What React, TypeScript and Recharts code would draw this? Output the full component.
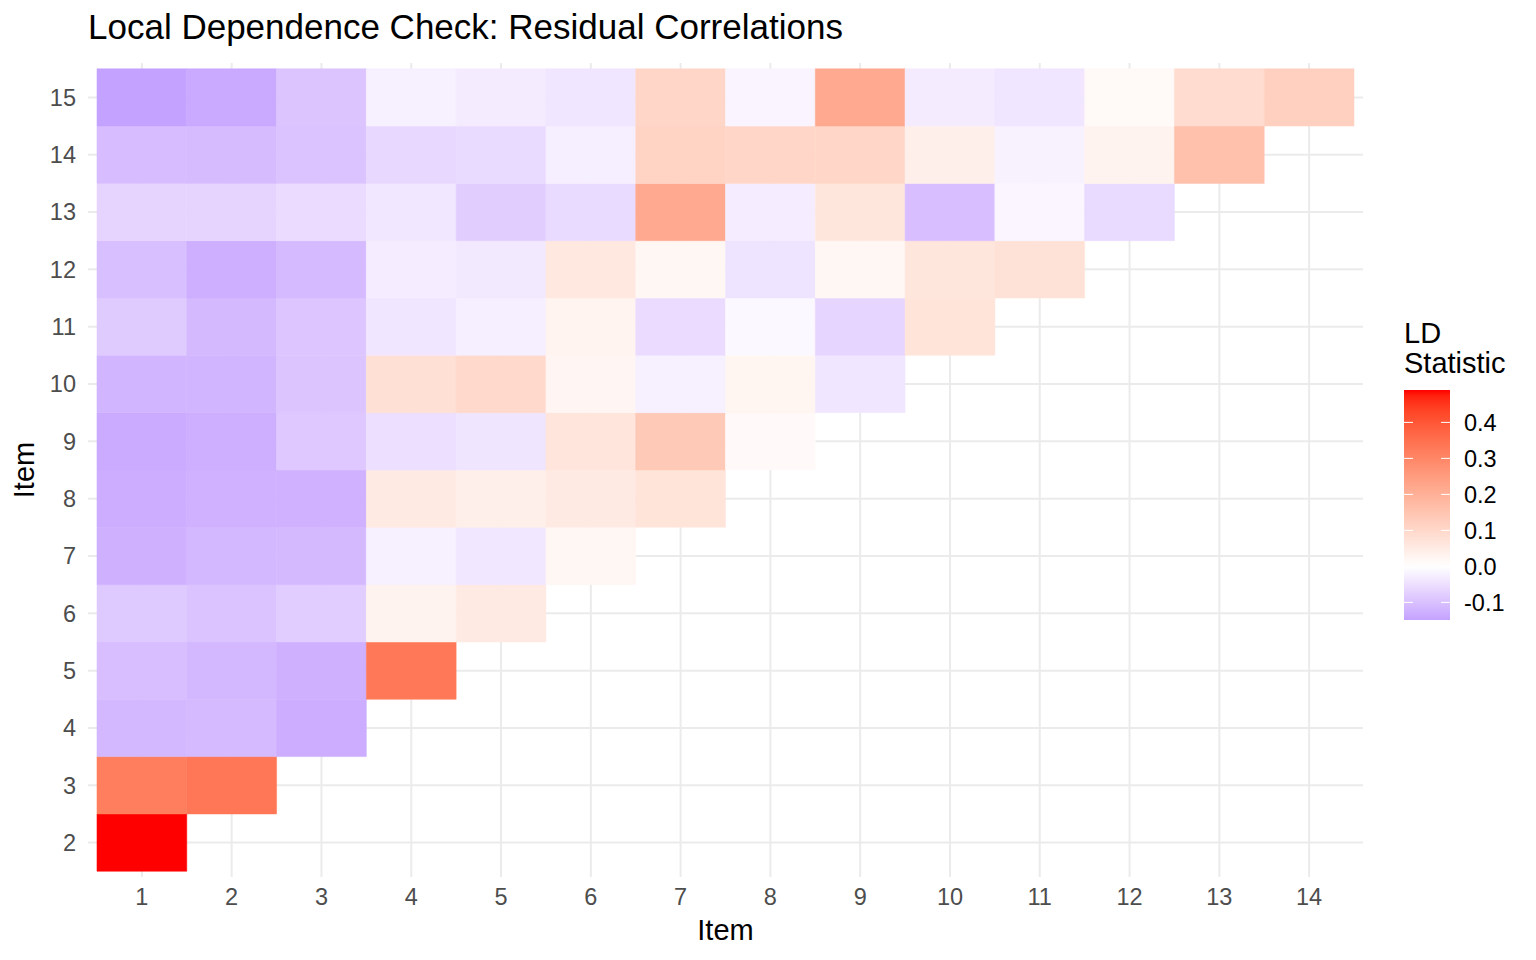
import React from 'react'
import {
  ScatterChart,
  Scatter,
  XAxis,
  YAxis,
  CartesianGrid,
  ReferenceArea,
  Label,
} from 'recharts'

// Item numbers on each axis
const xItems = [1, 2, 3, 4, 5, 6, 7, 8, 9, 10, 11, 12, 13, 14]
const yItems = [2, 3, 4, 5, 6, 7, 8, 9, 10, 11, 12, 13, 14, 15]
const xDomain: [number, number] = [0.4, 14.6]
const yDomain: [number, number] = [1.4, 15.6]

// Residual correlation (LD statistic) for item y against items 1..y-1
const ldRows: number[][] = [
  [0.49],
  [0.32, 0.335],
  [-0.115, -0.11, -0.131],
  [-0.103, -0.113, -0.126, 0.33],
  [-0.085, -0.095, -0.08, 0.03, 0.053],
  [-0.126, -0.115, -0.111, -0.023, -0.038, 0.02],
  [-0.131, -0.124, -0.124, 0.053, 0.04, 0.053, 0.07],
  [-0.134, -0.129, -0.087, -0.051, -0.041, 0.068, 0.137, 0.012],
  [-0.118, -0.118, -0.092, 0.08, 0.098, 0.025, -0.023, 0.027, -0.039],
  [-0.082, -0.111, -0.09, -0.039, -0.025, 0.028, -0.056, -0.011, -0.067, 0.07],
  [-0.102, -0.129, -0.11, -0.029, -0.034, 0.058, 0.02, -0.043, 0.02, 0.065, 0.075],
  [-0.069, -0.069, -0.057, -0.038, -0.079, -0.059, 0.215, -0.028, 0.065, -0.103, -0.015, -0.059],
  [-0.106, -0.108, -0.095, -0.062, -0.059, -0.025, 0.11, 0.105, 0.105, 0.04, -0.021, 0.03, 0.16],
  [-0.149, -0.136, -0.093, -0.023, -0.031, -0.039, 0.105, -0.018, 0.215, -0.031, -0.039, 0.015, 0.09, 0.12],
]

const legendTicks = [0.4, 0.3, 0.2, 0.1, 0.0, -0.1]

const FONT = '"Liberation Sans", Arial, Helvetica, sans-serif'

const cells = ldRows.flatMap((row, i) =>
  row.map((value, j) => ({ x: xItems[j], y: yItems[i], value }))
)
const allValues = cells.map((c) => c.value)
const vMin = Math.min(...allValues)
const vMax = Math.max(...allValues)

// --- colour scale: white in the middle, interpolated in Lab ---
type Lab = [number, number, number]

function srgbToLab(hex: string): Lab {
  const c = [1, 3, 5].map((i) => parseInt(hex.slice(i, i + 2), 16) / 255)
  const lin = c.map((v) => (v <= 0.04045 ? v / 12.92 : Math.pow((v + 0.055) / 1.055, 2.4)))
  const X = (0.4124 * lin[0] + 0.3576 * lin[1] + 0.1805 * lin[2]) / 0.95047
  const Y = 0.2126 * lin[0] + 0.7152 * lin[1] + 0.0722 * lin[2]
  const Z = (0.0193 * lin[0] + 0.1192 * lin[1] + 0.9505 * lin[2]) / 1.08883
  const f = (t: number) => (t > 0.008856 ? Math.cbrt(t) : 7.787 * t + 16 / 116)
  return [116 * f(Y) - 16, 500 * (f(X) - f(Y)), 200 * (f(Y) - f(Z))]
}

function labToHex([L, a, b]: Lab): string {
  const fy = (L + 16) / 116
  const fx = fy + a / 500
  const fz = fy - b / 200
  const inv = (t: number) => (t * t * t > 0.008856 ? t * t * t : (t - 16 / 116) / 7.787)
  const X = inv(fx) * 0.95047
  const Y = inv(fy)
  const Z = inv(fz) * 1.08883
  const lin = [
    3.2406 * X - 1.5372 * Y - 0.4986 * Z,
    -0.9689 * X + 1.8758 * Y + 0.0415 * Z,
    0.0557 * X - 0.204 * Y + 1.057 * Z,
  ]
  return (
    '#' +
    lin
      .map((v) => {
        const s = v <= 0.0031308 ? 12.92 * v : 1.055 * Math.pow(v, 1 / 2.4) - 0.055
        const n = Math.round(Math.min(1, Math.max(0, s)) * 255)
        return n.toString(16).padStart(2, '0')
      })
      .join('')
  )
}

const labWhite = srgbToLab('#ffffff')
const labRed = srgbToLab('#ff0000')
const labBlue = srgbToLab('#0000ff')

function mix(a: Lab, b: Lab, t: number): Lab {
  return [a[0] + (b[0] - a[0]) * t, a[1] + (b[1] - a[1]) * t, a[2] + (b[2] - a[2]) * t]
}

function ldColor(v: number): string {
  if (v >= 0) return labToHex(mix(labWhite, labRed, Math.min(1, v / vMax)))
  return labToHex(mix(labWhite, labBlue, Math.min(1, (v / vMin) * 0.4)))
}

// --- colour bar legend ---
const BAR_X = 1404
const BAR_W = 46
const BAR_TOP = 390
const BAR_H = 230

function barY(v: number) {
  return BAR_TOP + ((vMax - v) / (vMax - vMin)) * BAR_H
}

function ColorBar() {
  const stops = Array.from({ length: 41 }, (_, i) => i / 40)
  return (
    <svg
      width={1536}
      height={960}
      style={{ position: 'absolute', left: 0, top: 0, pointerEvents: 'none' }}
    >
      <defs>
        <linearGradient id="ldGrad" x1="0" y1="0" x2="0" y2="1">
          {stops.map((s) => (
            <stop key={s} offset={s} stopColor={ldColor(vMax - s * (vMax - vMin))} />
          ))}
        </linearGradient>
      </defs>
      <text x={88} y={39} fontSize={35} fontFamily={FONT} fill="#000">
        Local Dependence Check: Residual Correlations
      </text>
      <text x={BAR_X} y={343} fontSize={29} fontFamily={FONT} fill="#000">
        LD
      </text>
      <text x={BAR_X} y={373} fontSize={29} fontFamily={FONT} fill="#000">
        Statistic
      </text>
      <rect x={BAR_X} y={BAR_TOP} width={BAR_W} height={BAR_H} fill="url(#ldGrad)" />
      {legendTicks.map((t) => (
        <g key={t}>
          <line x1={BAR_X} x2={BAR_X + 9} y1={barY(t)} y2={barY(t)} stroke="#fff" strokeWidth={1} />
          <line
            x1={BAR_X + BAR_W - 9}
            x2={BAR_X + BAR_W}
            y1={barY(t)}
            y2={barY(t)}
            stroke="#fff"
            strokeWidth={1}
          />
          <text
            x={1464}
            y={barY(t)}
            dy="0.36em"
            fontSize={23.5}
            fontFamily={FONT}
            fill="#000"
          >
            {t.toFixed(1)}
          </text>
        </g>
      ))}
    </svg>
  )
}

// grid lines only at the item positions (no frame at the panel edges)
function gridY({ offset }: any) {
  return yItems.map(
    (v) => offset.top + ((yDomain[1] - v) / (yDomain[1] - yDomain[0])) * offset.height
  )
}
function gridX({ offset }: any) {
  return xItems.map(
    (v) => offset.left + ((v - xDomain[0]) / (xDomain[1] - xDomain[0])) * offset.width
  )
}

export default function App() {
  const tickStyle = { fill: '#4D4D4D', fontSize: 23.5, fontFamily: FONT }
  return (
    <div style={{ position: 'absolute', left: 0, top: 0, width: 1536, height: 960, background: '#fff' }}>
      <ScatterChart
        width={1536}
        height={960}
        margin={{ top: 63, right: 173, bottom: 0, left: 0 }}
      >
        <CartesianGrid
          stroke="#EBEBEB"
          strokeWidth={2}
          horizontalCoordinatesGenerator={gridY}
          verticalCoordinatesGenerator={gridX}
        />
        <XAxis
          type="number"
          dataKey="x"
          domain={xDomain}
          ticks={xItems}
          interval={0}
          allowDataOverflow
          height={83}
          tickLine={false}
          axisLine={false}
          tickMargin={5}
          tick={tickStyle}
        >
          <Label
            value="Item"
            position="insideBottom"
            offset={20}
            fill="#000"
            fontSize={29}
            fontFamily={FONT}
          />
        </XAxis>
        <YAxis
          type="number"
          dataKey="y"
          domain={yDomain}
          ticks={yItems}
          interval={0}
          allowDataOverflow
          width={88}
          tickLine={false}
          axisLine={false}
          tickMargin={6}
          tick={tickStyle}
        >
          <Label
            value="Item"
            angle={-90}
            position="insideLeft"
            offset={24}
            fill="#000"
            fontSize={29}
            fontFamily={FONT}
            style={{ textAnchor: 'middle' }}
          />
        </YAxis>
        {cells.map((c) => {
          const col = ldColor(c.value)
          return (
            <ReferenceArea
              key={`${c.x}-${c.y}`}
              x1={c.x - 0.5}
              x2={c.x + 0.5}
              y1={c.y - 0.5}
              y2={c.y + 0.5}
              fill={col}
              fillOpacity={1}
              stroke={col}
              strokeWidth={0.5}
              ifOverflow="visible"
            />
          )
        })}
        <Scatter data={cells} isAnimationActive={false} shape={() => <g />} />
      </ScatterChart>
      <ColorBar />
    </div>
  )
}
